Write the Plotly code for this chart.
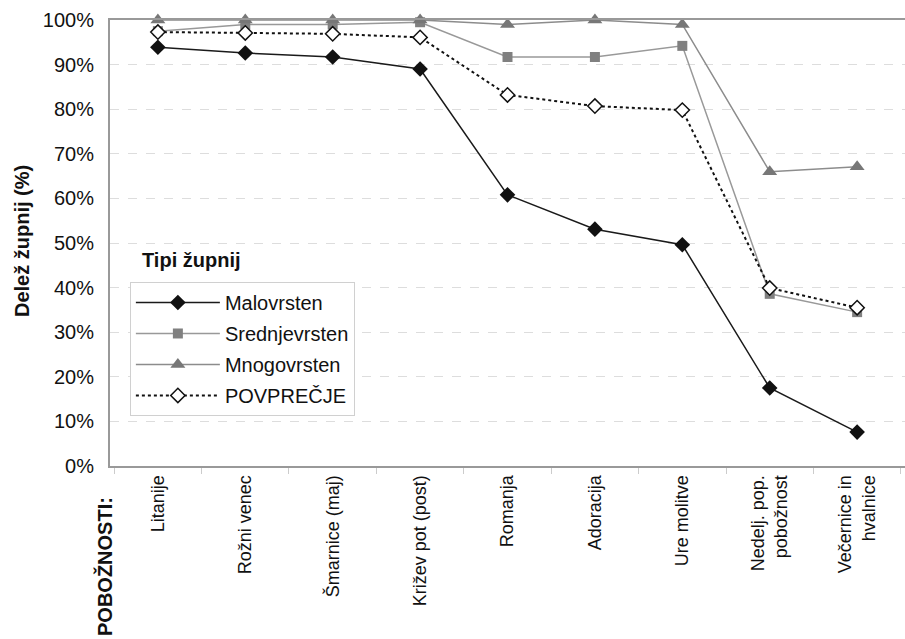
import plotly.graph_objects as go

categories = ["Litanije", "Rožni venec", "Šmarnice (maj)", "Križev pot (post)", "Romanja",
              "Adoracija", "Ure molitve", "Nedelj. pop.<br>pobožnost", "Večernice in<br>hvalnice"]
malovrsten = [0.939, 0.926, 0.917, 0.890, 0.608, 0.531, 0.496, 0.175, 0.076]
srednjevrsten = [0.975, 0.990, 0.990, 0.995, 0.917, 0.917, 0.942, 0.386, 0.345]
mnogovrsten = [1.0, 1.0, 1.0, 1.0, 0.990, 1.0, 0.990, 0.660, 0.671]
povprecje = [0.973, 0.971, 0.969, 0.961, 0.832, 0.807, 0.798, 0.399, 0.355]

FONT = "Liberation Sans, Arial, sans-serif"

fig = go.Figure()
fig.add_trace(go.Scatter(x=categories, y=malovrsten, name="Malovrsten", mode="lines+markers",
                         line=dict(color="#1a1a1a", width=1.5),
                         marker=dict(symbol="diamond", size=12, color="#111111"),
                         cliponaxis=False, legendgroup="a"))
fig.add_trace(go.Scatter(x=categories, y=srednjevrsten, name="Srednjevrsten", mode="lines+markers",
                         line=dict(color="#999999", width=1.5),
                         marker=dict(symbol="square", size=10, color="#808080"),
                         cliponaxis=False, legendgroup="b"))
fig.add_trace(go.Scatter(x=categories, y=mnogovrsten, name="Mnogovrsten", mode="lines+markers",
                         line=dict(color="#8c8c8c", width=1.5),
                         marker=dict(symbol="triangle-up", size=13, color="#777777"),
                         cliponaxis=False, legendgroup="c"))
fig.add_trace(go.Scatter(x=categories, y=povprecje, name="POVPREČJE", mode="lines+markers",
                         line=dict(color="#111111", width=2, dash="dot"),
                         marker=dict(symbol="diamond", size=11, color="white",
                                     line=dict(color="#111111", width=1.5)),
                         cliponaxis=False, legendgroup="d"))

fig.update_layout(
    width=905, height=639,
    margin=dict(l=110, r=0, t=20, b=173),
    plot_bgcolor="white", paper_bgcolor="white",
    font=dict(family=FONT, size=18, color="#111111"),
    showlegend=True,
    legend=dict(x=0.025, y=0.4126, xanchor="left", yanchor="top",
                bordercolor="#d0d0d0", borderwidth=1, bgcolor="white",
                font=dict(size=20, family=FONT), tracegroupgap=2, itemwidth=84),
)
fig.update_xaxes(showline=True, linecolor="#999999", linewidth=2, mirror=True,
                 showgrid=False, ticks="outside", tickson="boundaries", ticklen=6,
                 tickcolor="#cccccc", tickangle=-90, tickfont=dict(size=18, family=FONT),
                 automargin=False)
fig.update_yaxes(range=[0, 1], tickformat=".0%", dtick=0.1, showline=True,
                 linecolor="#999999", linewidth=2, showgrid=True, gridcolor="#dddddd",
                 griddash="dash", zeroline=False, ticks="", ticklabelstandoff=10,
                 tickfont=dict(size=20, family=FONT), automargin=False)

fig.add_annotation(text="<b>Delež župnij (%)</b>", textangle=-90, xref="paper", yref="paper",
                   x=(22 - 110) / 795, y=(466 - 241) / 446, xanchor="center", yanchor="middle",
                   showarrow=False, font=dict(size=20, family=FONT))
fig.add_annotation(text="<b>POBOŽNOSTI:</b>", textangle=-90, xref="paper", yref="paper",
                   x=(104 - 110) / 795, y=(466 - 567) / 446, xanchor="center", yanchor="middle",
                   showarrow=False, font=dict(size=20, family=FONT))
fig.add_annotation(text="<b>Tipi župnij</b>", xref="paper", yref="paper",
                   x=(140 - 110) / 795, y=(466 - 260) / 446, xanchor="left", yanchor="middle",
                   showarrow=False, font=dict(size=20, family=FONT))

fig.write_html("out.html", config={"displayModeBar": False},
               post_script="document.body.style.margin='0px';")
